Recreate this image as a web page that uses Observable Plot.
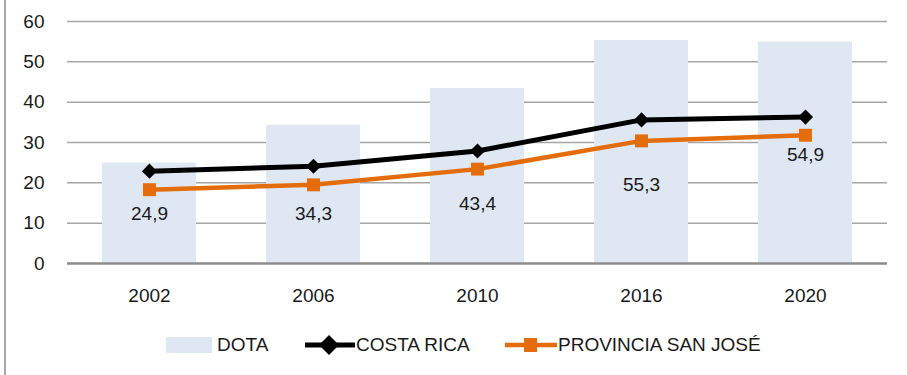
<!DOCTYPE html>
<html>
<head>
<meta charset="utf-8">
<script src="https://cdn.jsdelivr.net/npm/d3@7"></script>
<script src="https://cdn.jsdelivr.net/npm/@observablehq/plot@0.6"></script>
<style>
  html, body { margin: 0; padding: 0; background: #fff; }
  #wrap { position: relative; width: 907px; height: 375px; font-family: "Liberation Sans", Arial, sans-serif; }
  #border { position: absolute; left: 4px; top: 0; width: 1.5px; height: 375px; background: #a6a6a6; }
  #chart { position: absolute; left: 0; top: 0; }
  #legend { position: absolute; left: 0; top: 332px; width: 907px; height: 26px; }
  .item { position: absolute; top: 0; display: flex; align-items: center; height: 26px; font-size: 19px; color: #1a1a1a; white-space: nowrap; }
</style>
</head>
<body>
<div id="wrap">
  <div id="chart"></div>
  <div id="border"></div>
  <div id="legend"></div>
</div>
<script>
// ---- data ----
const years = ["2002", "2006", "2010", "2016", "2020"];
const dota = [24.9, 34.3, 43.4, 55.3, 54.9];
const costaRica = [22.9, 24.1, 27.9, 35.6, 36.3];
const sanJose = [18.3, 19.5, 23.4, 30.4, 31.8];
const dotaLabels = ["24,9", "34,3", "43,4", "55,3", "54,9"];
const dotaLabelAt = [12.2, 12.2, 14.8, 19.6, 27.0];
const yTicks = [0, 10, 20, 30, 40, 50, 60];
const seriesNames = ["DOTA", "COSTA RICA", "PROVINCIA SAN JOSÉ"];

const barColor = "#dfe7f2";
const crColor = "#000000";
const sjColor = "#e46c0a";

const bars = years.map((y, i) => ({year: y, value: dota[i], label: dotaLabels[i], at: dotaLabelAt[i]}));
const cr = years.map((y, i) => ({year: y, value: costaRica[i]}));
const sj = years.map((y, i) => ({year: y, value: sanJose[i]}));

const chart = Plot.plot({
  width: 907,
  height: 315,
  marginTop: 21,
  marginBottom: 52,
  marginLeft: 67,
  marginRight: 20,
  style: {fontFamily: '"Liberation Sans", Arial, sans-serif', fontSize: "19px", color: "#1a1a1a", background: "transparent"},
  x: {type: "band", domain: years, paddingInner: 0.427, paddingOuter: 0.2135, label: null},
  y: {domain: [0, 60], label: null},
  marks: [
    Plot.ruleY(yTicks.filter(d => d > 0), {stroke: "#a6a6a6", strokeWidth: 1.5}),
    Plot.barY(bars, {x: "year", y: "value", fill: barColor}),
    Plot.ruleY([0], {stroke: "#8c8c8c", strokeWidth: 2.5}),
    Plot.axisY({ticks: yTicks, tickSize: 0, tickPadding: 23, fontSize: 19, fill: "#1a1a1a"}),
    Plot.axisX({tickSize: 0, tickPadding: 25, fontSize: 19, fill: "#1a1a1a"}),
    Plot.text(bars, {x: "year", y: "at", text: "label", fontSize: 19, fill: "#1a1a1a"}),
    Plot.line(sj, {x: "year", y: "value", stroke: sjColor, strokeWidth: 4.5}),
    Plot.dot(sj, {x: "year", y: "value", symbol: "square", r: 7.3, fill: sjColor, stroke: "none"}),
    Plot.line(cr, {x: "year", y: "value", stroke: crColor, strokeWidth: 5}),
    Plot.dot(cr, {x: "year", y: "value", symbol: "diamond2", r: 6.8, fill: crColor, stroke: "none"})
  ]
});
document.getElementById("chart").appendChild(chart);

// ---- legend ----
const legend = document.getElementById("legend");
const items = [
  {name: seriesNames[0], left: 166, sym: `<svg width="47" height="26"><rect x="0" y="5" width="46" height="16" fill="${barColor}"/></svg>`},
  {name: seriesNames[1], left: 305, sym: `<svg width="50" height="26"><line x1="0" y1="13" x2="50" y2="13" stroke="${crColor}" stroke-width="5"/><path d="M24,3 L34,13 L24,23 L14,13 Z" fill="${crColor}"/></svg>`},
  {name: seriesNames[2], left: 505, sym: `<svg width="52" height="26"><line x1="0" y1="13" x2="52" y2="13" stroke="${sjColor}" stroke-width="4.5"/><rect x="19" y="6" width="13" height="14" fill="${sjColor}"/></svg>`}
];
items.forEach((it, i) => {
  const d = document.createElement("div");
  d.className = "item";
  d.style.left = it.left + "px";
  d.innerHTML = it.sym + `<span style="margin-left:${i === 0 ? 4 : 1}px">${it.name}</span>`;
  legend.appendChild(d);
});
</script>
</body>
</html>
